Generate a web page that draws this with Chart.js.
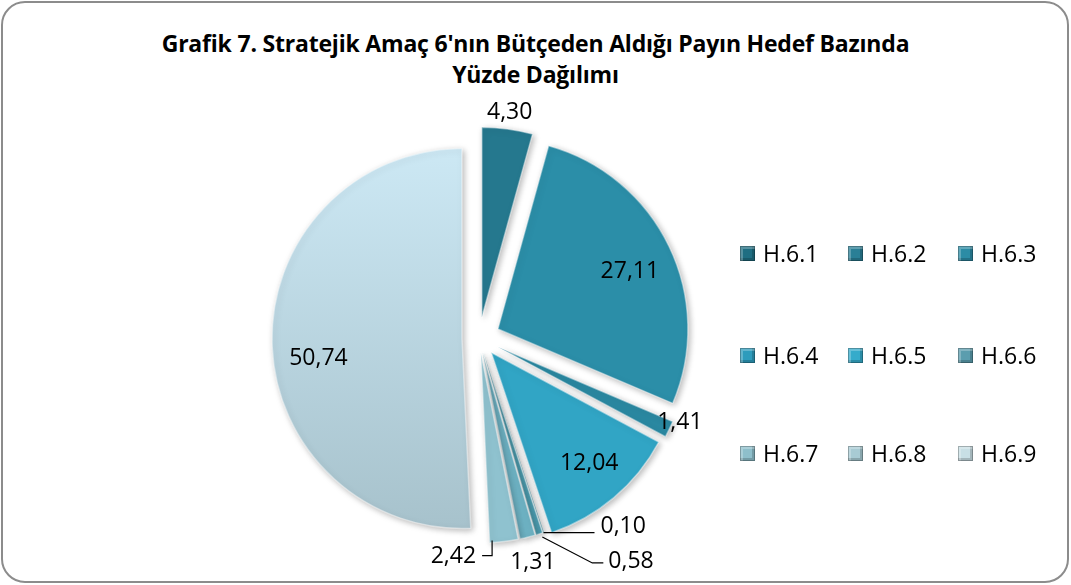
<!DOCTYPE html>
<html>
<head>
<meta charset="utf-8">
<script src="https://cdn.jsdelivr.net/npm/chart.js@4.4.0/dist/chart.umd.min.js"></script>
<style>
  html, body { margin: 0; padding: 0; background: #ffffff; }
  #wrap { position: relative; width: 1071px; height: 585px; overflow: hidden; background: #fff; }
  #frame { position: absolute; left: 1px; top: 1px; width: 1068px; height: 582px; box-sizing: border-box;
           border: 2px solid #8c8c8c; border-radius: 24px; }
  #title { position: absolute; left: 0; top: 28px; width: 1071px; text-align: center;
           font-family: "Open Sans", sans-serif; font-weight: bold; font-size: 23px; line-height: 31px; color: #000;
           letter-spacing: -0.2px; }
  canvas { position: absolute; left: 0; top: 0; }
  .lg { position: absolute; height: 24px; display: flex; align-items: center;
        font-family: "Open Sans", sans-serif; font-size: 23px; color: #000; white-space: nowrap; }
  .mk { width: 15px; height: 15px; margin-right: 8px; box-sizing: border-box;
        box-shadow: inset 0 0 0 1px rgba(0,0,0,0.25), inset 3px 3px 0 rgba(255,255,255,0.25), inset -3px -3px 0 rgba(0,0,0,0.18); }
</style>
</head>
<body>
<div id="wrap">
  <div id="frame"></div>
  <div id="title">Grafik 7. Stratejik Amaç 6'nın Bütçeden Aldığı Payın Hedef Bazında<br>Yüzde Dağılımı</div>
  <canvas id="c" width="1071" height="585"></canvas>
  <div id="legend"></div>
</div>
<script>
// ---- data ----
const categories = ['H.6.1', 'H.6.2', 'H.6.3', 'H.6.4', 'H.6.5', 'H.6.6', 'H.6.7', 'H.6.8', 'H.6.9'];
const shares = [4.30, 27.11, 1.41, 12.04, 0.10, 0.58, 1.31, 2.42, 50.74];
const valueLabels = shares.map(v => v.toFixed(2).replace('.', ','));

// ---- styling ----
const sliceColors = ['#25788E', '#2B8EA8', '#2A88A1', '#31A5C5', '#3AA0B8', '#4E9FB2', '#6DB1C2', '#8FC2CF', '#BAD8E3'];
const explode = [21, 21, 21, 19, 15, 15, 15, 15, 17];
// label placement: f = radial factor from slice centre, da = angle shift (deg);
// leader slices anchor at the outer edge and use a small elbow path
const labelPlacement = [
  { f: 1.09, da: 0 },
  { f: 0.757, da: 2.3 },
  { f: 1.036, da: -3.2 },
  { f: 0.778, da: -1.3 },
  { edge: true, da: 0, path: [[0, 0], [51, 0]], text: [57, -6], align: 'left' },
  { edge: true, da: 0, path: [[3, 3], [53, 29], [64, 29]], text: [69, 28], align: 'left' },
  { f: 1.134, da: 0.2 },
  { edge: true, da: 3.6, path: [[0, -2], [0, 13], [-10, 13]], text: [-16, 14], align: 'right' },
  { f: 0.763, da: -6.6 }
];

const ctx = document.getElementById('c').getContext('2d');

function bg(context) {
  const i = context.dataIndex;
  if (i === 8) {
    const area = context.chart.chartArea;
    if (!area) return sliceColors[8];
    const g = context.chart.ctx.createLinearGradient(0, area.top, 0, area.bottom);
    g.addColorStop(0, '#CDE9F5');
    g.addColorStop(1, '#A6C1CB');
    return g;
  }
  return sliceColors[i];
}

const explodePlugin = {
  id: 'explode',
  beforeDatasetDraw(chart, args) {
    const c = chart.ctx;
    args.meta.data.forEach((arc, i) => {
      const mid = (arc.startAngle + arc.endAngle) / 2;
      c.save();
      c.translate(Math.cos(mid) * explode[i], Math.sin(mid) * explode[i]);
      c.shadowColor = 'rgba(0,0,0,0.28)';
      c.shadowBlur = 6;
      c.shadowOffsetX = 2;
      c.shadowOffsetY = 2;
      arc.draw(c);
      c.restore();
    });
    return false;
  }
};

const labelPlugin = {
  id: 'vlabels',
  afterDatasetsDraw(chart) {
    const c = chart.ctx;
    const meta = chart.getDatasetMeta(0);
    c.save();
    c.font = '23px "Open Sans", sans-serif';
    c.fillStyle = '#000';
    c.strokeStyle = '#000';
    c.lineWidth = 1.2;
    c.textBaseline = 'middle';
    meta.data.forEach((arc, i) => {
      const p = labelPlacement[i];
      const mid = (arc.startAngle + arc.endAngle) / 2;
      const ox = arc.x + Math.cos(mid) * explode[i];
      const oy = arc.y + Math.sin(mid) * explode[i];
      const a = mid + p.da * Math.PI / 180;
      const R = arc.outerRadius;
      if (p.edge) {
        const ex = ox + Math.cos(a) * R;
        const ey = oy + Math.sin(a) * R;
        c.beginPath();
        p.path.forEach((pt, k) => {
          if (k === 0) c.moveTo(ex + pt[0], ey + pt[1]); else c.lineTo(ex + pt[0], ey + pt[1]);
        });
        c.stroke();
        c.textAlign = p.align;
        c.fillText(valueLabels[i], ex + p.text[0], ey + p.text[1]);
      } else {
        c.textAlign = 'center';
        c.fillText(valueLabels[i], ox + Math.cos(a) * R * p.f, oy + Math.sin(a) * R * p.f);
      }
    });
    c.restore();
  }
};

new Chart(ctx, {
  type: 'pie',
  data: {
    labels: categories,
    datasets: [{
      data: shares,
      backgroundColor: bg,
      borderColor: 'rgba(255,255,255,0.45)',
      borderWidth: 1.5,
      radius: 190
    }]
  },
  options: {
    responsive: false,
    animation: false,
    events: [],
    layout: { padding: { left: 279, right: 392, top: 140, bottom: 49 } },
    plugins: { legend: { display: false }, title: { display: false }, tooltip: { enabled: false } }
  },
  plugins: [explodePlugin, labelPlugin]
});

// ---- legend (3 x 3 grid) ----
const legendCols = [740, 848, 958];
const legendRows = [253, 355, 453];
const legendEl = document.getElementById('legend');
const legendColors = ['#1F6E82', '#2A7F96', '#2C8CA5', '#2E9CBC', '#35ABCB', '#5B9DAE', '#8EBFCB', '#A8CBD4', '#C8DFE5'];
categories.forEach((name, i) => {
  const d = document.createElement('div');
  d.className = 'lg';
  d.style.left = legendCols[i % 3] + 'px';
  d.style.top = (legendRows[Math.floor(i / 3)] - 12) + 'px';
  const m = document.createElement('span');
  m.className = 'mk';
  m.style.background = legendColors[i];
  d.appendChild(m);
  d.appendChild(document.createTextNode(name));
  legendEl.appendChild(d);
});
</script>
</body>
</html>
